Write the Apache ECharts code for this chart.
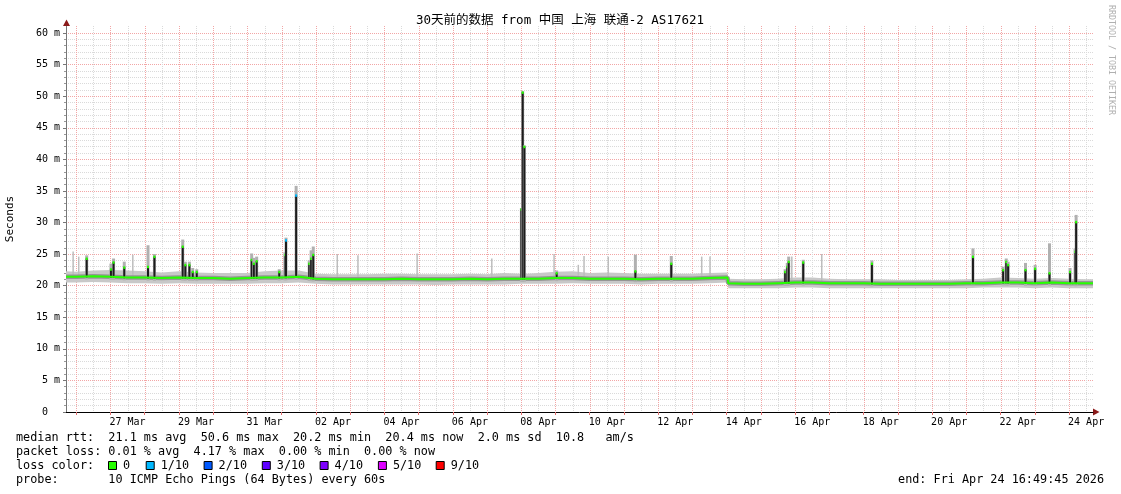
<!DOCTYPE html>
<html><head><meta charset="utf-8">
<script src="https://cdn.jsdelivr.net/npm/echarts@6/dist/echarts.min.js"></script>
<style>html,body{margin:0;padding:0;background:#fff}#c{width:1121px;height:494px}</style>
</head><body><div id="c"></div>
<script>
// ---------------- data ----------------
const TITLE = '30天前的数据 from 中国 上海 联通-2 AS17621';
const YEAR = 2026;
const START = '03-25 16:49:45';
const END = '04-24 16:49:45';
const xLabels = ['27 Mar','29 Mar','31 Mar','02 Apr','04 Apr','06 Apr','08 Apr','10 Apr','12 Apr','14 Apr','16 Apr','18 Apr','20 Apr','22 Apr','24 Apr'];
const yUnit = 'm';

// baseline median rtt (ms) and smoke band
const baseTimes = ['03-25 16:50','03-26 00:00','03-26 12:00','03-27 00:00','03-27 12:00','03-28 00:00','03-28 12:00','03-29 00:00','03-29 12:00','03-30 00:00','03-30 12:00','03-31 00:00','03-31 12:00','04-01 00:00','04-01 12:00','04-02 00:00','04-02 12:00','04-03 00:00','04-03 12:00','04-04 00:00','04-04 12:00','04-05 00:00','04-05 12:00','04-06 00:00','04-06 12:00','04-07 00:00','04-07 12:00','04-07 23:50','04-08 03:00','04-08 12:00','04-09 00:00','04-09 12:00','04-10 00:00','04-10 12:00','04-11 00:00','04-11 12:00','04-12 00:00','04-12 12:00','04-13 00:00','04-13 12:00','04-14 00:30','04-14 01:10','04-14 12:00','04-15 00:00','04-15 12:00','04-16 00:00','04-16 12:00','04-17 00:00','04-17 12:00','04-18 00:00','04-18 12:00','04-19 00:00','04-19 12:00','04-20 00:00','04-20 12:00','04-21 00:00','04-21 12:00','04-22 00:00','04-22 12:00','04-23 00:00','04-23 12:00','04-24 00:00','04-24 12:00','04-24 16:49'];
const baseMedian = [21.4,21.4,21.5,21.4,21.3,21.3,21.2,21.3,21.2,21.2,21.1,21.2,21.3,21.3,21.4,21.1,21.0,21.0,21.0,21.0,21.1,21.0,21.0,21.0,21.1,21.0,21.1,21.1,21.1,21.1,21.2,21.2,21.1,21.1,21.1,21.0,21.1,21.1,21.1,21.2,21.3,20.4,20.3,20.3,20.4,20.5,20.5,20.4,20.4,20.4,20.3,20.3,20.3,20.3,20.3,20.4,20.4,20.5,20.5,20.4,20.5,20.4,20.4,20.4];
const smokeLow = [20.5,20.5,20.6,20.5,20.4,20.4,20.3,20.4,20.3,20.3,20.3,20.3,20.4,20.4,20.5,20.3,20.2,20.2,20.2,20.2,20.2,20.2,20.1,20.2,20.2,20.2,20.2,20.3,20.3,20.3,20.3,20.4,20.3,20.3,20.3,20.2,20.3,20.3,20.3,20.4,20.5,19.6,19.6,19.6,19.6,19.7,19.7,19.6,19.6,19.6,19.6,19.6,19.6,19.6,19.6,19.6,19.7,19.7,19.7,19.6,19.7,19.6,19.6,19.6];
const smokeHigh = [22.3,22.2,22.4,22.5,22.4,22.3,22.1,22.3,22.1,22.0,22.0,22.0,22.3,22.4,22.4,21.9,21.8,21.8,21.8,21.9,21.9,21.8,21.8,21.8,21.9,21.8,22.0,21.9,21.9,22.0,22.2,22.3,22.0,22.1,22.0,21.9,21.9,21.9,21.9,22.0,22.1,21.1,21.0,21.0,21.1,21.3,21.3,21.1,21.0,21.0,21.0,20.9,20.9,20.9,20.9,21.0,21.1,21.3,21.2,21.1,21.2,21.1,21.0,21.0];

// latency spikes: time, median peak (ms), smoke top (ms), loss level index
const spikeTimes = ['03-26 07:20','03-27 00:20','03-27 02:10','03-27 09:40','03-28 02:20','03-28 06:50','03-29 02:40','03-29 04:30','03-29 07:20','03-29 09:40','03-29 12:30','03-31 03:00','03-31 04:30','03-31 06:30','03-31 22:20','04-01 02:20','04-01 03:05','04-01 10:10','04-01 19:20','04-01 20:40','04-01 22:10','04-08 00:05','04-08 01:00','04-08 02:10','04-09 00:50','04-11 08:00','04-12 09:10','04-15 17:00','04-15 18:30','04-15 19:30','04-16 05:40','04-18 05:50','04-21 04:40','04-22 01:50','04-22 04:00','04-22 05:20','04-22 17:30','04-23 00:15','04-23 10:20','04-24 00:45','04-24 04:15','04-24 05:00'];
const spikePeak = [24.3,22.6,23.7,22.9,23.0,24.6,26.2,23.3,23.3,22.2,22.2,24.1,23.5,23.9,22.2,24.9,27.2,34.3,23.5,24.3,24.9,32.1,50.6,42.0,22.0,22.3,23.5,22.2,23.0,23.8,23.7,23.5,24.6,22.5,23.8,23.3,22.5,22.7,22.0,22.2,25.4,30.1];
const spikeSmoke = [24.8,23.5,24.3,23.8,26.4,25.0,27.3,23.8,23.8,22.8,22.6,25.1,24.4,24.6,22.6,25.3,27.6,35.8,24.0,25.6,26.2,32.3,50.8,42.2,22.4,24.9,24.7,22.6,23.6,24.6,24.1,24.0,25.9,23.0,24.3,23.8,23.6,23.3,26.7,22.8,25.9,31.2];
const spikeLoss = [0,0,0,0,0,0,0,0,0,0,0,0,0,0,0,0,1,1,0,0,0,0,0,0,0,0,0,0,0,0,0,0,0,0,0,0,0,0,0,0,0,0];

// isolated smoke (single slow pings)
const smokeSpikeTimes = ['03-25 21:50','03-26 01:45','03-27 15:40','04-02 15:00','04-03 05:30','04-04 23:00','04-07 03:20','04-08 23:00','04-09 16:00','04-09 20:00','04-10 13:00','04-13 06:30','04-13 12:20','04-15 21:40','04-16 18:40'];
const smokeSpikeTop = [25.4,24.6,24.9,25.0,24.8,25.1,24.3,25.0,23.3,24.7,24.6,24.6,24.6,24.6,25.0];

const lossLabels = ['0','1/10','2/10','3/10','4/10','5/10','9/10'];
const lossColors = ['#26ff00','#00b8ff','#0059ff','#5e00ff','#7e00ff','#dd00ff','#ff0000'];

const statLines = [
  'median rtt:  21.1 ms avg  50.6 ms max  20.2 ms min  20.4 ms now  2.0 ms sd  10.8   am/s',
  'packet loss: 0.01 % avg  4.17 % max  0.00 % min  0.00 % now',
  'loss color:',
  'probe:       10 ICMP Echo Pings (64 Bytes) every 60s'
];
const endText = 'end: Fri Apr 24 16:49:45 2026';

// ---------------- helpers ----------------
function T(s){
  const [md, hm] = s.split(' ');
  const [mo, d] = md.split('-').map(Number);
  const p = hm.split(':').map(Number);
  return Date.UTC(YEAR, mo-1, d, p[0], p[1], p[2]||0);
}
const MON = ['Jan','Feb','Mar','Apr','May','Jun','Jul','Aug','Sep','Oct','Nov','Dec'];
const S = T(START), E = T(END);
const DAY = 86400000;
const midnights = [], noons = [];
for (let t = Date.UTC(YEAR,2,26); t < E; t += DAY) midnights.push(t);
for (let t = Date.UTC(YEAR,2,25,12); t < E; t += DAY) if (t > S) noons.push(t);
const labelPos = xLabels.map(l => { const [d,m] = l.split(' '); return Date.UTC(YEAR, MON.indexOf(m), Number(d), 12); });
function labelFor(v){ let bi=0,bd=Infinity; labelPos.forEach((p,i)=>{const dd=Math.abs(p-v); if(dd<bd){bd=dd;bi=i;}}); return xLabels[bi]; }

const baseX = baseTimes.map(T);
function baseAt(t){
  for (let i=1;i<baseX.length;i++){
    if (t <= baseX[i]) { const f=(t-baseX[i-1])/(baseX[i]-baseX[i-1]); return baseMedian[i-1]+f*(baseMedian[i]-baseMedian[i-1]); }
  }
  return baseMedian[baseMedian.length-1];
}

const MONO = '"DejaVu Sans Mono", monospace';
const RED = '#f2a6a6', GRAY = '#dadada';

const spikeData = spikeTimes.map((s,i)=>{ const t=T(s); return [t, spikePeak[i], spikeSmoke[i], baseAt(t), spikeLoss[i]]; });
const smokeSpikeData = smokeSpikeTimes.map((s,i)=>{ const t=T(s); return [t, smokeSpikeTop[i], baseAt(t)]; });

// ---------------- chart ----------------
const chart = echarts.init(document.getElementById('c'), null, {renderer:'canvas'});

const graphics = [];
graphics.push({type:'text', x:560, y:21, style:{text:TITLE, font:'12.5px "DejaVu Sans Mono","Noto Sans CJK SC",monospace', fill:'#000', align:'center', verticalAlign:'middle'}});
graphics.push({type:'text', x:10, y:219, rotation:Math.PI/2, style:{text:'Seconds', font:'11px '+MONO, fill:'#000', align:'center', verticalAlign:'middle'}});
graphics.push({type:'text', x:1111, y:60, rotation:-Math.PI/2, style:{text:'RRDTOOL / TOBI OETIKER', font:'8.3px '+MONO, fill:'#b0b0b0', align:'center', verticalAlign:'middle'}});
// axis extensions/arrows
graphics.push({type:'line', shape:{x1:66.5,y1:33,x2:66.5,y2:24}, style:{stroke:'#777', lineWidth:1}});
graphics.push({type:'polygon', shape:{points:[[63,26],[70,26],[66.5,19.5]]}, style:{fill:'#8b1a1a'}});
graphics.push({type:'polygon', shape:{points:[[1093,408.5],[1093,415.5],[1099.5,412]]}, style:{fill:'#8b1a1a'}});
// stats text
const lineY = [438,452,466,480];
statLines.forEach((s,i)=>{
  graphics.push({type:'text', x:16, y:lineY[i], style:{text:s, font:'11.8px '+MONO, fill:'#000', verticalAlign:'middle'}});
});
const sqX = [108,145.7,203.6,261.8,319.6,377.9,435.7];
lossLabels.forEach((l,i)=>{
  graphics.push({type:'rect', shape:{x:sqX[i]+0.5, y:461.5, width:8, height:8}, style:{fill:lossColors[i], stroke:'#000', lineWidth:1}});
  graphics.push({type:'text', x:sqX[i]+15, y:466, style:{text:l, font:'11.8px '+MONO, fill:'#000', verticalAlign:'middle'}});
});
graphics.push({type:'text', x:1104, y:480, style:{text:endText, font:'11.8px '+MONO, fill:'#000', align:'right', verticalAlign:'middle'}});

// vertical grid lines drawn through the x scale (extend slightly above the top like rrdtool)
function vGrid(vals, color, z){
  return {type:'custom', data:vals.map(v=>[v]), z:z, silent:true, clip:false,
    renderItem:(p,api)=>{
      const a=api.coord([api.value(0),60]), b=api.coord([api.value(0),0]);
      const x=Math.round(a[0])+0.5;
      return {type:'line', shape:{x1:x,y1:a[1]-7,x2:x,y2:b[1]}, style:{stroke:color, lineWidth:1, lineDash:[1,1]}};
    }};
}

const option = {
  animation:false,
  backgroundColor:'#fff',
  grid:{left:66, right:28, top:33, bottom:82},
  xAxis:{
    type:'value', min:S, max:E, position:'bottom',
    axisLine:{show:true, onZero:false, lineStyle:{color:'#000', width:1}},
    axisTick:{show:true, customValues:midnights, length:3, lineStyle:{color:'#e07070'}},
    axisLabel:{show:true, customValues:labelPos, formatter:(v)=>labelFor(v), fontFamily:MONO, fontSize:10, color:'#000', margin:5},
    splitLine:{show:false}
  },
  yAxis:{
    type:'value', min:0, max:60, interval:5,
    axisLine:{show:true, lineStyle:{color:'#777', width:1}},
    axisTick:{show:true, length:3, lineStyle:{color:'#777'}},
    minorTick:{show:true, splitNumber:5, length:2, lineStyle:{color:'#999'}},
    axisLabel:{formatter:(v)=> v===0 ? '0  ' : v+' '+yUnit, fontFamily:MONO, fontSize:10, color:'#000', margin:6},
    splitLine:{show:true, lineStyle:{color:RED, width:1, type:[1,1]}},
    minorSplitLine:{show:true, lineStyle:{color:GRAY, width:1, type:[1,1]}}
  },
  graphic:graphics,
  series:[
    vGrid(noons, GRAY, 0),
    vGrid(midnights, RED, 0),
    {type:'custom', name:'smoke', data:[[S, 0]], clip:true, z:1, silent:true,
      renderItem:(p,api)=>{
        const pts=[];
        for (let i=0;i<baseX.length;i++) pts.push(api.coord([baseX[i], smokeHigh[i]]));
        for (let i=baseX.length-1;i>=0;i--) pts.push(api.coord([baseX[i], smokeLow[i]]));
        return {type:'polygon', shape:{points:pts}, style:{fill:'#c8c8c8'}};
      }},
    {type:'custom', name:'smokeSpikes', data:smokeSpikeData, clip:true, z:2, silent:true,
      renderItem:(p,api)=>{ const t=api.value(0), top=api.value(1), b=api.value(2); const pt=api.coord([t,top]), pb=api.coord([t,b]);
        return {type:'rect', shape:{x:pt[0]-0.75, y:pt[1], width:1.5, height:pb[1]-pt[1]}, style:{fill:'#bdbdbd'}}; }},
    {type:'line', name:'core', data:baseX.map((x,i)=>[x, baseMedian[i]]), showSymbol:false, symbol:'none', lineStyle:{color:'#959595', width:4.5}, z:3, silent:true},
    {type:'custom', name:'spikes', data:spikeData, clip:true, z:4, silent:true,
      renderItem:(p,api)=>{
        const t=api.value(0), peak=api.value(1), top=api.value(2), b=api.value(3), loss=api.value(4);
        const pb=api.coord([t,b]), pp=api.coord([t,peak]), pt=api.coord([t,top]);
        return {type:'group', children:[
          {type:'rect', shape:{x:pb[0]-1.5, y:pt[1], width:3, height:pb[1]-pt[1]+3}, style:{fill:'#b0b0b0'}},
          {type:'rect', shape:{x:pb[0]-1, y:pp[1], width:2, height:pb[1]-pp[1]+1}, style:{fill:'#1c1c1c'}},
          {type:'rect', shape:{x:pb[0]-1, y:pp[1]-1, width:2, height:2.5}, style:{fill:lossColors[loss]}}
        ]};
      }},
    {type:'line', name:'median', data:baseX.map((x,i)=>[x, baseMedian[i]]), showSymbol:false, symbol:'none', lineStyle:{color:'#26ff00', width:2}, z:5, silent:true}
  ]
};
chart.setOption(option);
</script>
</body></html>
